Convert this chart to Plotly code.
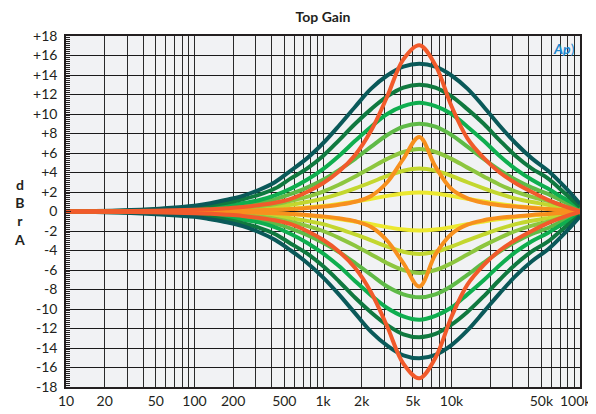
import plotly.graph_objects as go

# ---------------- data ----------------
FREQ_HZ = [10, 32, 100, 133, 178, 237, 316, 422, 562, 750, 1000, 1330, 1780, 2370,
           3160, 4220, 5620, 7500, 10000, 13300, 17800, 23700, 31600, 42200, 56200, 75000, 100000]

# boost curves (dB)
teal_boost = [0, 0.15, 0.6, 0.85, 1.2, 1.6, 2.2, 3.0, 4.2, 5.45, 7.0, 8.8, 10.75, 12.6, 13.95, 14.85, 15.15, 14.85, 13.95, 12.6, 10.75, 8.8, 7.0, 5.45, 4.2, 2.6, 0.8]
dkgreen_boost = [0, 0.1, 0.45, 0.65, 0.9, 1.25, 1.7, 2.35, 3.4, 4.4, 5.7, 7.3, 9.0, 10.5, 11.8, 12.7, 13.0, 12.7, 11.8, 10.5, 9.0, 7.3, 5.7, 4.4, 3.4, 1.95, 0.5]
green_boost = [0, 0.07, 0.3, 0.45, 0.6, 0.85, 1.15, 1.65, 2.35, 3.25, 4.35, 5.7, 7.25, 8.7, 10.0, 10.8, 11.15, 10.8, 10.0, 8.7, 7.25, 5.7, 4.35, 3.25, 2.35, 1.35, 0.45]
midgreen_boost = [0, 0.05, 0.22, 0.32, 0.45, 0.63, 0.9, 1.25, 1.8, 2.45, 3.25, 4.25, 5.4, 6.65, 7.85, 8.7, 9.0, 8.7, 7.85, 6.65, 5.4, 4.25, 3.25, 2.45, 1.8, 1.0, 0.3]
ltgreen_boost = [0, 0.03, 0.13, 0.19, 0.27, 0.38, 0.55, 0.75, 1.1, 1.5, 2.05, 2.75, 3.6, 4.5, 5.4, 6.1, 6.4, 6.1, 5.4, 4.5, 3.6, 2.75, 2.05, 1.5, 1.1, 0.58, 0.2]
ygreen_boost = [0, 0.02, 0.09, 0.12, 0.18, 0.24, 0.35, 0.48, 0.7, 0.97, 1.32, 1.8, 2.38, 3.0, 3.65, 4.18, 4.4, 4.18, 3.65, 3.0, 2.38, 1.8, 1.32, 0.97, 0.7, 0.35, 0.13]
yellow_boost = [0, 0.01, 0.04, 0.05, 0.08, 0.1, 0.14, 0.2, 0.29, 0.41, 0.57, 0.78, 1.03, 1.31, 1.6, 1.85, 1.95, 1.85, 1.6, 1.31, 1.03, 0.78, 0.57, 0.41, 0.29, 0.16, 0.06]
orange_boost = [0, 0.01, 0.04, 0.05, 0.07, 0.09, 0.12, 0.17, 0.25, 0.35, 0.5, 0.7, 1.0, 1.6, 3.0, 5.4, 7.65, 4.6, 2.3, 1.35, 0.9, 0.65, 0.5, 0.35, 0.25, 0.12, 0.02]
red_boost = [0, 0.04, 0.17, 0.24, 0.33, 0.45, 0.65, 0.9, 1.3, 2.0, 2.9, 4.1, 5.8, 8.3, 11.8, 15.6, 17.05, 15.0, 10.8, 7.5, 5.5, 4.0, 2.9, 2.0, 1.2, 0.55, 0.05]

# cut curves (dB)
teal_cut = [0, -0.15, -0.55, -0.8, -1.1, -1.5, -2.1, -2.9, -4.0, -5.25, -6.75, -8.5, -10.45, -12.35, -13.75, -14.75, -15.05, -14.7, -13.7, -12.2, -10.3, -8.4, -6.6, -5.1, -3.9, -2.3, -0.5]
dkgreen_cut = [0, -0.1, -0.42, -0.6, -0.85, -1.2, -1.65, -2.3, -3.3, -4.3, -5.6, -7.15, -8.85, -10.35, -11.65, -12.6, -12.9, -12.55, -11.6, -10.3, -8.7, -7.0, -5.4, -4.1, -3.1, -1.7, -0.4]
green_cut = [0, -0.07, -0.3, -0.43, -0.58, -0.82, -1.12, -1.6, -2.3, -3.2, -4.3, -5.6, -7.15, -8.6, -9.9, -10.75, -11.1, -10.7, -9.85, -8.5, -7.05, -5.5, -4.15, -3.05, -2.2, -1.2, -0.35]
midgreen_cut = [0, -0.05, -0.21, -0.31, -0.44, -0.61, -0.87, -1.22, -1.75, -2.4, -3.2, -4.15, -5.3, -6.5, -7.7, -8.5, -8.8, -8.5, -7.65, -6.5, -5.25, -4.1, -3.1, -2.3, -1.7, -0.9, -0.25]
ltgreen_cut = [0, -0.03, -0.13, -0.19, -0.26, -0.37, -0.53, -0.73, -1.07, -1.47, -2.0, -2.7, -3.52, -4.4, -5.3, -6.0, -6.3, -6.0, -5.3, -4.4, -3.5, -2.7, -2.0, -1.45, -1.05, -0.55, -0.15]
ygreen_cut = [0, -0.02, -0.09, -0.12, -0.18, -0.24, -0.35, -0.47, -0.69, -0.96, -1.3, -1.78, -2.35, -2.96, -3.6, -4.13, -4.35, -4.13, -3.6, -2.96, -2.35, -1.78, -1.3, -0.95, -0.68, -0.33, -0.1]
yellow_cut = [0, -0.01, -0.04, -0.05, -0.08, -0.1, -0.14, -0.2, -0.29, -0.41, -0.57, -0.78, -1.03, -1.31, -1.6, -1.85, -1.95, -1.85, -1.6, -1.31, -1.03, -0.78, -0.57, -0.41, -0.29, -0.16, -0.04]
orange_cut = [0, -0.01, -0.04, -0.05, -0.07, -0.09, -0.12, -0.17, -0.25, -0.35, -0.5, -0.7, -1.0, -1.6, -3.0, -5.3, -7.7, -4.4, -2.3, -1.35, -0.9, -0.65, -0.5, -0.35, -0.25, -0.12, -0.02]
red_cut = [0, -0.04, -0.17, -0.24, -0.33, -0.45, -0.65, -0.9, -1.3, -2.0, -2.9, -4.1, -5.8, -8.3, -11.8, -15.6, -17.1, -15.0, -10.8, -7.5, -5.5, -4.0, -2.9, -2.0, -1.2, -0.55, -0.05]

# tick labels
Y_TICKS = list(range(-18, 19, 2))
Y_LABELS = [("+%d" % v if v > 0 else ("0" if v == 0 else "-%d" % -v)) for v in Y_TICKS]
X_LABELED = {10: "10", 20: "20", 50: "50", 100: "100", 200: "200", 500: "500",
             1000: "1k", 2000: "2k", 5000: "5k", 10000: "10k", 50000: "50k"}
X_EDGE_LABEL = (100000, "100k")   # drawn as an annotation so it is not dropped at the page edge
X_GRID = [m * 10 ** e for e in range(1, 5) for m in range(1, 10)] + [100000]

# ---------------- figure ----------------
series = [
    ("yellow", yellow_boost, yellow_cut, "#ece82f"),
    ("ygreen", ygreen_boost, ygreen_cut, "#c3d72f"),
    ("ltgreen", ltgreen_boost, ltgreen_cut, "#8dc63f"),
    ("midgreen", midgreen_boost, midgreen_cut, "#5fba47"),
    ("green", green_boost, green_cut, "#0fae4f"),
    ("dkgreen", dkgreen_boost, dkgreen_cut, "#10793f"),
    ("teal", teal_boost, teal_cut, "#0a5959"),
    ("orange", orange_boost, orange_cut, "#f7901e"),
    ("red", red_boost, red_cut, "#f15a2b"),
]

fig = go.Figure()
for name, up, dn, col in series:
    for ys in (up, dn):
        fig.add_trace(go.Scatter(
            x=FREQ_HZ, y=ys, mode="lines", name=name, showlegend=False,
            line=dict(color=col, width=4, shape="spline", smoothing=1.0),
            hoverinfo="skip"))

# the page body adds an 8px offset, so the figure is 8px smaller and margins shifted
FIG_W, FIG_H = 588, 406
fig.update_layout(
    width=FIG_W, height=FIG_H,
    margin=dict(l=58, r=16, t=28, b=27, autoexpand=False),
    paper_bgcolor="white",
    plot_bgcolor="#f1f2f4",
    font=dict(family="Lato, Noto Sans, sans-serif", size=14, color="#231f20"),
    title=dict(text="<b>Top Gain</b>", x=0.5, xref="paper", xanchor="center",
               y=1 - 9 / FIG_H, yref="container", yanchor="middle", automargin=False,
               font=dict(size=14, color="#231f20")),
    showlegend=False,
)

fig.update_xaxes(
    type="log", range=[1, 5], automargin=False,
    tickmode="array", tickvals=X_GRID,
    ticktext=[X_LABELED.get(v, "") for v in X_GRID],
    showgrid=True, gridcolor="#2a2a2a", gridwidth=1.2,
    showline=True, linecolor="#231f20", linewidth=1.5, mirror=True,
    ticks="", tickfont=dict(size=14), zeroline=False,
)
fig.update_yaxes(
    range=[-18, 18], automargin=False,
    tickmode="array", tickvals=Y_TICKS, ticktext=Y_LABELS,
    showgrid=True, gridcolor="#1a1a1a", gridwidth=1.3,
    showline=True, linecolor="#231f20", linewidth=1.5, mirror=True,
    ticks="inside", ticklen=5, tickcolor="#231f20", tickwidth=1,
    minor=dict(dtick=0.2, ticks="inside", ticklen=4, tickcolor="#231f20", tickwidth=1, showgrid=False),
    zeroline=False, tickfont=dict(size=14), ticklabelstandoff=4,
)

fig.add_annotation(text=X_EDGE_LABEL[1], x=5, xref="x", y=0, yref="paper",
                   xanchor="right", yanchor="top", xshift=14, yshift=-3, showarrow=False,
                   font=dict(size=14, color="#231f20"))
fig.add_annotation(text="<b>d<br>B<br>r<br>A</b>", xref="paper", yref="paper",
                   x=-0.105, y=0.5, showarrow=False, align="center",
                   font=dict(size=14, color="#231f20"))
fig.add_annotation(text="<i><b>Ap</b></i>)", xref="paper", yref="paper",
                   x=0.995, y=0.995, xanchor="right", yanchor="top", showarrow=False,
                   font=dict(size=14, color="#1b87cf"))

fig.write_html("out.html")
